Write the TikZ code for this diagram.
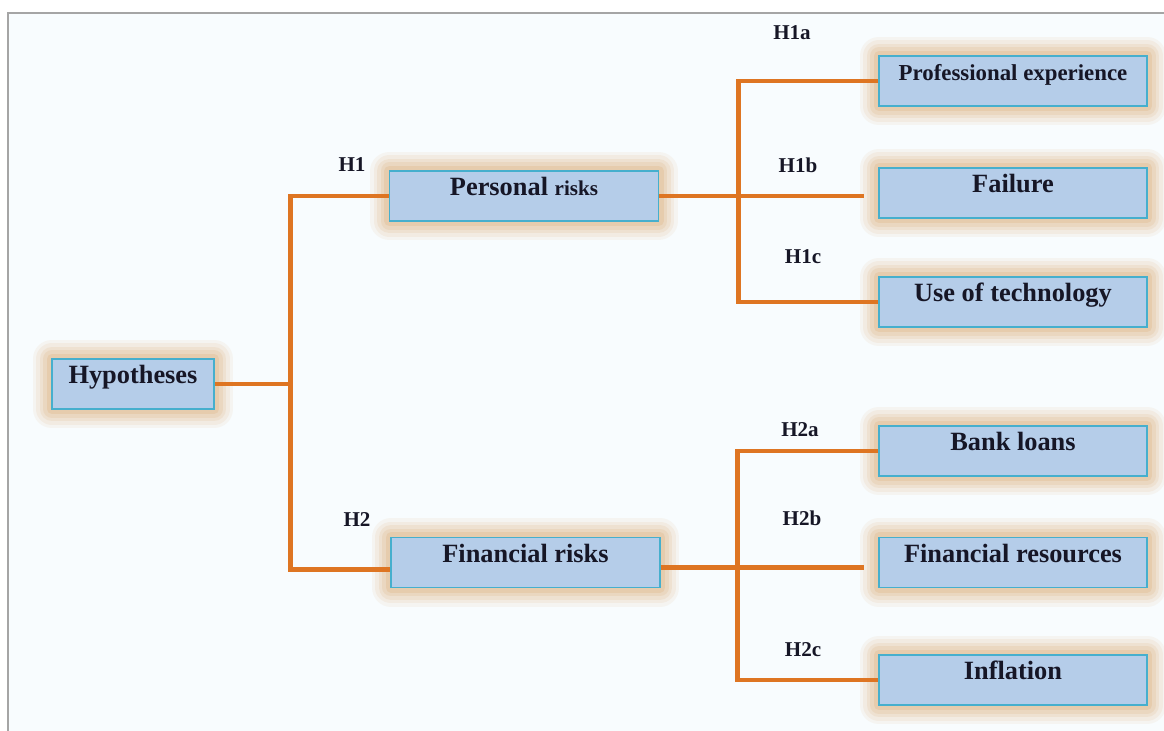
\documentclass[tikz,border=0pt]{standalone}
\usepackage{fontspec}
\setmainfont{Liberation Serif}
\usepackage{tikz}
\definecolor{boxblue}{RGB}{181,205,233}
\definecolor{boxedge}{RGB}{70,175,205}
\definecolor{glowtan}{RGB}{212,150,80}
\definecolor{orangec}{RGB}{222,117,34}
\definecolor{framegray}{RGB}{165,165,165}
\definecolor{paper}{RGB}{248,252,254}
\definecolor{ink}{RGB}{22,22,38}
\tikzset{
  box/.style  = {shape=rectangle, draw=boxedge, line width=0.8pt, fill=boxblue,
                 inner sep=0pt, text height=0.5cm, text depth=0.5cm, text=ink,
                 font=\bfseries\fontsize{15}{18}\selectfont,
                 preaction={draw=glowtan, line join=round, line width=22pt, opacity=0.07},
                 preaction={draw=glowtan, line join=round, line width=18pt, opacity=0.09},
                 preaction={draw=glowtan, line join=round, line width=14pt, opacity=0.11},
                 preaction={draw=glowtan, line join=round, line width=10pt, opacity=0.13},
                 preaction={draw=glowtan, line join=round, line width=6pt, opacity=0.16}},
  root/.style = {box, minimum width=3.24cm},
  risk/.style = {box, minimum width=5.38cm},
  leaf/.style = {box, minimum width=5.36cm},
  hyp/.style  = {font=\bfseries\fontsize{12}{14}\selectfont, text=ink},
  branch/.style = {draw=orangec, line width=2.8pt}
}
\begin{document}
\begin{tikzpicture}
\useasboundingbox (0,0) rectangle (23.28,-14.62);
\fill[paper] (0.16,-0.26) rectangle (23.28,-14.62);
\draw[framegray, line width=0.8pt] (0.16,-14.62) |- (23.28,-0.26);

% boxes
\node[root] (hyp) at (2.66,-7.68) {Hypotheses};
\node[risk] (pers) at (10.48,-3.92) {Personal {\fontsize{12}{14}\selectfont risks}};
\node[risk] (fin) at (10.51,-11.25) {Financial risks};
\node[leaf, font=\bfseries\fontsize{13}{15}\selectfont] (prof) at (20.26,-1.62) {Professional experience};
\node[leaf] (fail) at (20.26,-3.86) {Failure};
\node[leaf] (tech) at (20.26,-6.04) {Use of technology};
\node[leaf] (bank) at (20.26,-9.02) {Bank loans};
\node[leaf] (fres) at (20.26,-11.25) {Financial resources};
\node[leaf] (infl) at (20.26,-13.6) {Inflation};

% labels
\node[hyp] (h1) at (7.04,-3.3) {H1};
\node[hyp] (h2) at (7.14,-10.4) {H2};
\node[hyp] (h1a) at (15.84,-0.66) {H1a};
\node[hyp] (h1b) at (15.96,-3.3) {H1b};
\node[hyp] (h1c) at (16.06,-5.14) {H1c};
\node[hyp] (h2a) at (16.0,-8.6) {H2a};
\node[hyp] (h2b) at (16.04,-10.36) {H2b};
\node[hyp] (h2c) at (16.06,-13.0) {H2c};

% connectors
\coordinate (j1) at ([xshift=1.52cm]hyp.east);
\draw[branch] (hyp.east) -- (j1);
\draw[branch] (pers.west) -| (j1) |- ([yshift=-0.14cm]fin.west);

\coordinate (j2) at ([xshift=1.58cm]pers.east);
\draw[branch, shorten >=0.28cm] (pers.east) -- (pers.east -| fail.west);
\draw[branch] (prof.west) -| (j2) |- (tech.west);

\coordinate (j3) at ([xshift=1.54cm]fin.east);
\draw[branch, shorten >=0.28cm] ([yshift=-0.1cm]fin.east) -- ([yshift=-0.1cm]fin.east -| fres.west);
\draw[branch] (bank.west) -| (j3) |- (infl.west);
\end{tikzpicture}
\end{document}
